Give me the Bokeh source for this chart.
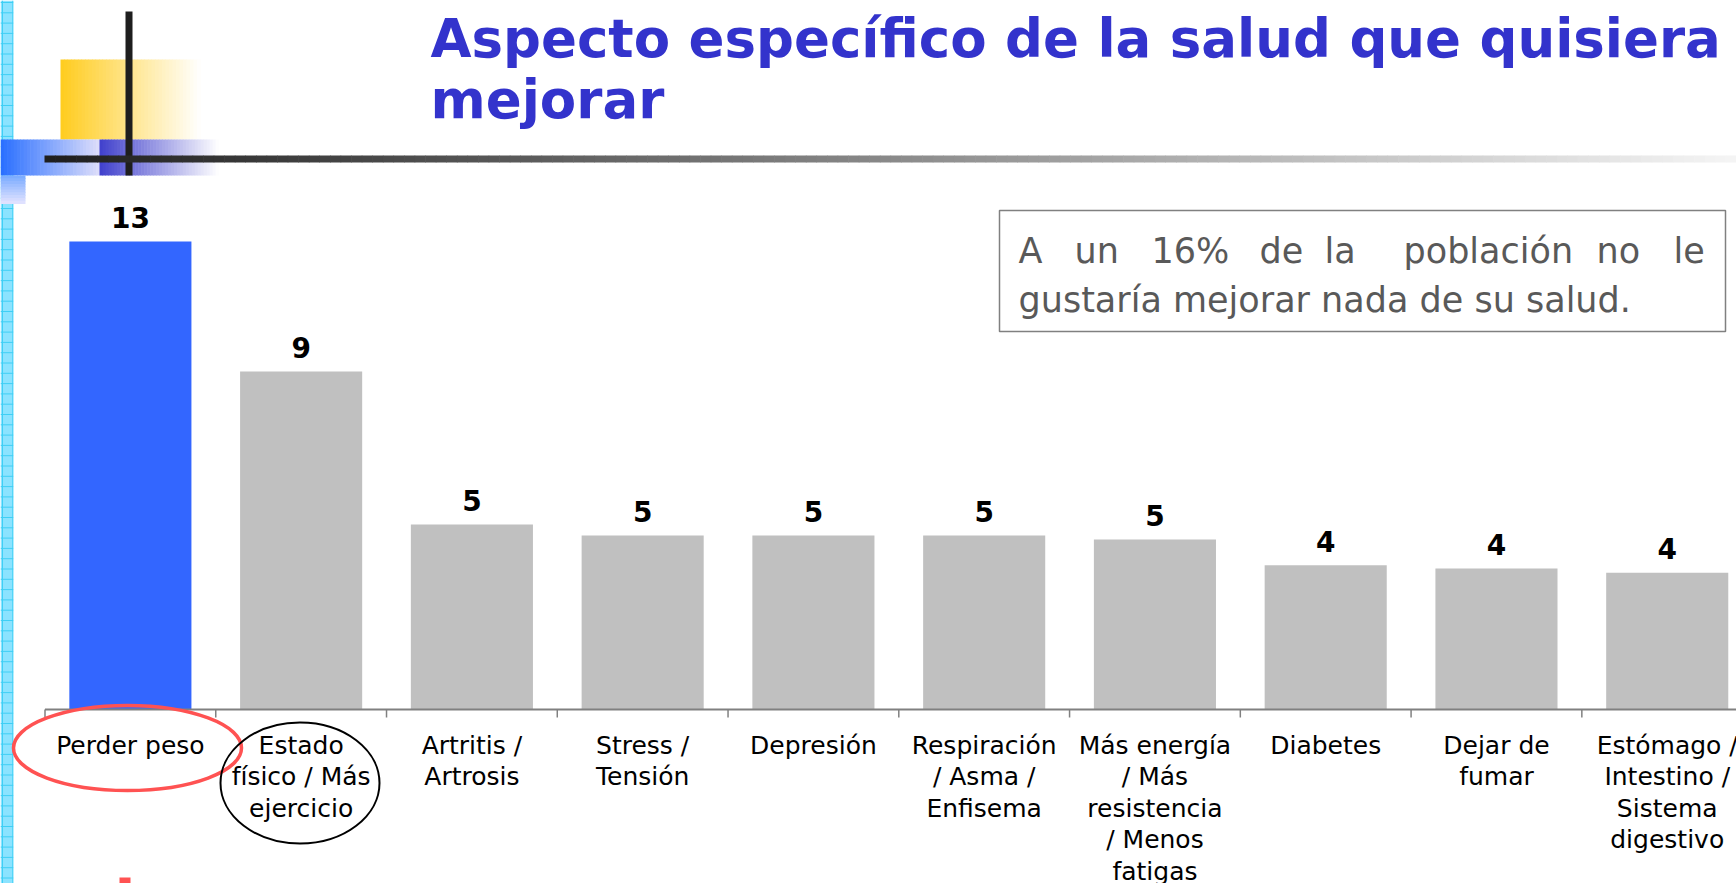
import numpy as np
from bokeh.plotting import figure
from bokeh.models import Range1d
from bokeh.core.properties import value
from bokeh.embed import file_html
from bokeh.resources import INLINE

# ---------------- data ----------------
categories = [
    "Perder peso",
    "Estado\nfísico / Más\nejercicio",
    "Artritis /\nArtrosis",
    "Stress /\nTensión",
    "Depresión",
    "Respiración\n/ Asma /\nEnfisema",
    "Más energía\n/ Más\nresistencia\n/ Menos\nfatigas",
    "Diabetes",
    "Dejar de\nfumar",
    "Estómago /\nIntestino /\nSistema\ndigestivo",
]
values = [12.82, 9.26, 5.07, 4.77, 4.77, 4.77, 4.66, 3.95, 3.86, 3.75]
value_labels = [str(int(round(v))) for v in values]
bar_colors = ["#3366FF"] + ["#C0C0C0"] * 9
title_lines = ["Aspecto específico de la salud que quisiera", "mejorar"]
note_words_1 = ["A", "un", "16%", "de", "la", "población", "no", "le"]
note_line_2 = "gustaría mejorar nada de su salud."

# ---------------- layout (page pixels) ----------------
W, H = 1736, 883
OFF = 0
CAT0, STEP = 44.5, 170.76      # page x of first category boundary, px per category
BASE, UNIT = 709.0, 36.5       # page y of value 0, px per unit
BL = 0.36                      # alphabetic baseline correction (fraction of font size)

x_range = Range1d((OFF - CAT0) / STEP, (OFF + W - CAT0) / STEP)
y_range = Range1d(-(OFF + H - BASE) / UNIT, (BASE - OFF) / UNIT)

p = figure(width=W, height=H, x_range=x_range, y_range=y_range,
           output_backend="svg", toolbar_location=None, min_border=0,
           x_axis_type=None, y_axis_type=None)
p.extra_x_ranges = {"px": Range1d(OFF, OFF + W)}
p.extra_y_ranges = {"px": Range1d(OFF + H, OFF)}
p.grid.visible = False
p.outline_line_color = None
p.background_fill_color = "white"
p.border_fill_color = "white"

PX = dict(x_range_name="px", y_range_name="px")


def hexcol(c):
    return "#%02x%02x%02x" % tuple(int(round(v)) for v in c)


def hgrad(x0, x1, y0, y1, c0, c1, n):
    xs = np.linspace(x0, x1, n + 1)
    t = (np.arange(n) + 0.5) / n
    c0 = np.array(c0, float)
    c1 = np.array(c1, float)
    cols = [hexcol(c0 + (c1 - c0) * ti) for ti in t]
    p.quad(left=xs[:-1], right=xs[1:] + 0.6, top=[y0] * n, bottom=[y1] * n,
           fill_color=cols, line_color=None, **PX)


def vgrad(x0, x1, y0, y1, c0, c1, n):
    ys = np.linspace(y0, y1, n + 1)
    t = (np.arange(n) + 0.5) / n
    c0 = np.array(c0, float)
    c1 = np.array(c1, float)
    cols = [hexcol(c0 + (c1 - c0) * ti) for ti in t]
    p.quad(left=[x0] * n, right=[x1] * n, top=ys[:-1], bottom=ys[1:] + 0.6,
           fill_color=cols, line_color=None, **PX)


# ---------------- decorations ----------------
# cyan grid strip on the far left
p.quad(left=[0], right=[12.7], top=[0], bottom=[H],
       fill_color="#8BE3FF", line_color=None, **PX)
gy = np.arange(2, H, 10.3)
p.segment(x0=[0] * len(gy), x1=[12.7] * len(gy), y0=gy, y1=gy,
          line_color="#3FCFF5", line_width=1, **PX)
gx = np.arange(2, 12.7, 10.3)
p.segment(x0=gx, x1=gx, y0=[0] * len(gx), y1=[H] * len(gx),
          line_color="#3FCFF5", line_width=1, **PX)

# yellow fading square
hgrad(60, 200, 59, 139, (255, 204, 30), (255, 255, 255), 40)
# blue fading band
hgrad(0, 99, 139, 175, (40, 110, 255), (222, 222, 250), 30)
hgrad(99, 218, 139, 175, (64, 64, 204), (255, 255, 255), 40)
vgrad(0, 25, 175, 203, (120, 170, 255), (228, 228, 255), 10)

# black vertical line
p.quad(left=[125], right=[132], top=[11], bottom=[175],
       fill_color="#1E1E1E", line_color=None, **PX)
# horizontal fading rule
hgrad(44, W, 155, 162, (30, 30, 30), (245, 245, 245), 160)

# title
TS = 53
p.text(x=[430, 430], y=[57.5 - BL * TS, 118 - BL * TS], text=title_lines,
       text_font=value("DejaVu Sans"), text_font_style="bold",
       text_font_size=f"{TS}px", text_color="#3333CC",
       text_baseline="alphabetic", text_align="left", **PX)

# note box
NS = 35
p.quad(left=[999], right=[1725], top=[210], bottom=[331],
       fill_color="white", line_color="#808080", line_width=1.5, **PX)
note_x = [1018, 1074, 1151, 1259, 1324, 1403, 1596, 1673]
p.text(x=note_x, y=[263.5 - BL * NS] * len(note_words_1), text=note_words_1,
       text_font=value("DejaVu Sans"), text_font_size=f"{NS}px",
       text_color="#595959", text_baseline="alphabetic", text_align="left", **PX)
p.text(x=[1018], y=[312 - BL * NS], text=[note_line_2],
       text_font=value("DejaVu Sans"), text_font_size=f"{NS}px",
       text_color="#595959", text_baseline="alphabetic", text_align="left", **PX)

# ---------------- bars ----------------
centers = np.arange(len(categories)) + 0.5
p.vbar(x=centers, top=values, bottom=0, width=0.715,
       fill_color=bar_colors, line_color=None)
VS = 28
p.text(x=centers, y=values, text=value_labels, y_offset=-14 - BL * VS,
       text_font=value("DejaVu Sans"), text_font_style="bold",
       text_font_size=f"{VS}px", text_color="black",
       text_align="center", text_baseline="alphabetic")

# category axis line and ticks
bounds = np.arange(len(categories) + 1)
p.segment(x0=[0], y0=[0], x1=[len(categories)], y1=[0],
          line_color="#808080", line_width=2)
p.segment(x0=bounds, x1=bounds, y0=[BASE] * len(bounds), y1=[BASE + 8] * len(bounds),
          line_color="#808080", line_width=1.5, y_range_name="px")

# category labels
p.text(x=centers, y=[730] * len(categories), text=categories,
       text_font=value("DejaVu Sans"), text_font_size="25px",
       text_color="black", text_align="center", text_baseline="top",
       text_line_height=1.09, y_range_name="px")

# highlight ellipses
p.ellipse(x=[127], y=[747.5], width=[228], height=[85],
          fill_color=None, line_color="#FF5252", line_width=3.5, **PX)
p.ellipse(x=[299.5], y=[782.5], width=[159], height=[121],
          fill_color=None, line_color="black", line_width=2, **PX)
# small red mark at the bottom edge
p.quad(left=[119], right=[130], top=[877], bottom=[H],
       fill_color="#FF5252", line_color=None, **PX)

open("out.html", "w").write(file_html(p, INLINE))
